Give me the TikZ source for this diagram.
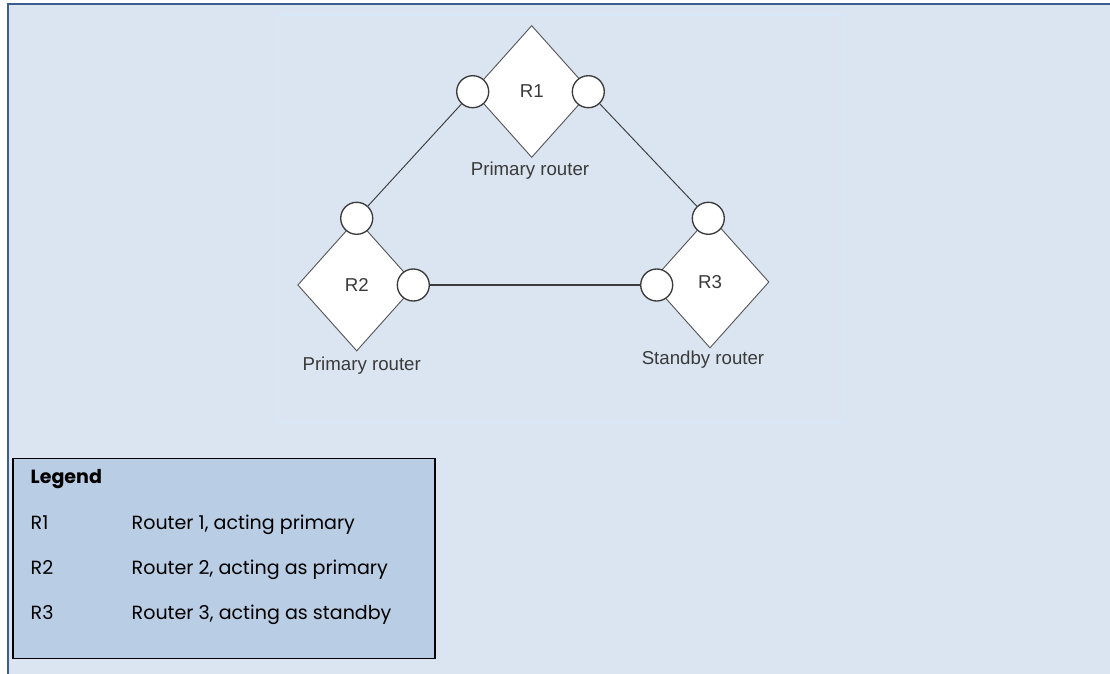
\documentclass[tikz,border=0pt]{standalone}
\usepackage{fontspec}
\setmainfont{Liberation Sans}
\newfontfamily\legendfont{Poppins}
\usetikzlibrary{shapes.geometric,positioning}
\definecolor{pagebg}{HTML}{DBE5F1}
\definecolor{framebl}{HTML}{3B5E8F}
\definecolor{legendbg}{HTML}{B9CDE5}
\definecolor{picedge}{HTML}{D6E8F7}
\definecolor{inkgray}{HTML}{3A3A3A}

\begin{document}
\begin{tikzpicture}[x=0.75pt,y=-0.75pt,
    router/.style={diamond, draw=inkgray!85, fill=white, line width=0.7pt,
                   minimum width=88.5pt, minimum height=99pt, inner sep=0pt,
                   font=\fontsize{14}{16}\selectfont, text=inkgray},
    port/.style={circle, draw=inkgray, fill=white, line width=1pt,
                 minimum size=24pt, inner sep=0pt},
    role/.style={anchor=base, font=\fontsize{14}{16}\selectfont, text=inkgray},
    link/.style={draw=inkgray, line width=0.7pt},
    legtext/.style={anchor=base west, font=\legendfont\fontsize{14.3}{16}\selectfont}
]
\useasboundingbox (0,0) rectangle (1110,674);
\fill[white] (0,0) rectangle (1110,674);
\fill[pagebg] (8,4) rectangle (1110,674);
\draw[framebl, line width=1.1pt] (8,674) -- (8,4) -- (1110,4);
\draw[picedge, line width=0.8pt] (278,15) rectangle (843,422);

% routers
\node[router] (r1) at (531.7,91.5) {R1};
\node[router] (r2) at (356.7,285) {R2};
\node[router] (r3) at (710,282) {R3};

\node[role] (r1role) at (530,175.7) {Primary router};
\node[role] (r2role) at (361.7,370) {Primary router};
\node[role] (r3role) at (703,364.3) {Standby router};

% interfaces
\node[port] (p1w) at (472.7,91.7) {};
\node[port] (p1e) at (588.3,91.7) {};
\node[port] (p2n) at (356.7,218.3) {};
\node[port] (p2e) at (413.3,285) {};
\node[port] (p3n) at (708.3,218.3) {};
\node[port] (p3w) at (656.7,285) {};

\draw[link] (p1w) -- (p2n);
\draw[link] (p1e) -- (p3n);
\draw[link, line width=0.9pt] (p2e) -- (p3w);

% legend
\node[draw=black, fill=legendbg, line width=1.1pt, minimum width=316.7pt,
      minimum height=150pt, inner sep=0pt] (legend) at (223.9,558.3) {};
\node[legtext, font=\legendfont\bfseries\fontsize{14.3}{16}\selectfont] (legtitle) at (26,483.3) {Legend};
\node[legtext] (k1) at (26,529.3) {R1};
\node[legtext] (v1) at (127,529.3) {Router 1, acting primary};
\node[legtext] (k2) at (26,574) {R2};
\node[legtext] (v2) at (127,574) {Router 2, acting as primary};
\node[legtext] (k3) at (26,619) {R3};
\node[legtext] (v3) at (127,619) {Router 3, acting as standby};
\end{tikzpicture}
\end{document}
